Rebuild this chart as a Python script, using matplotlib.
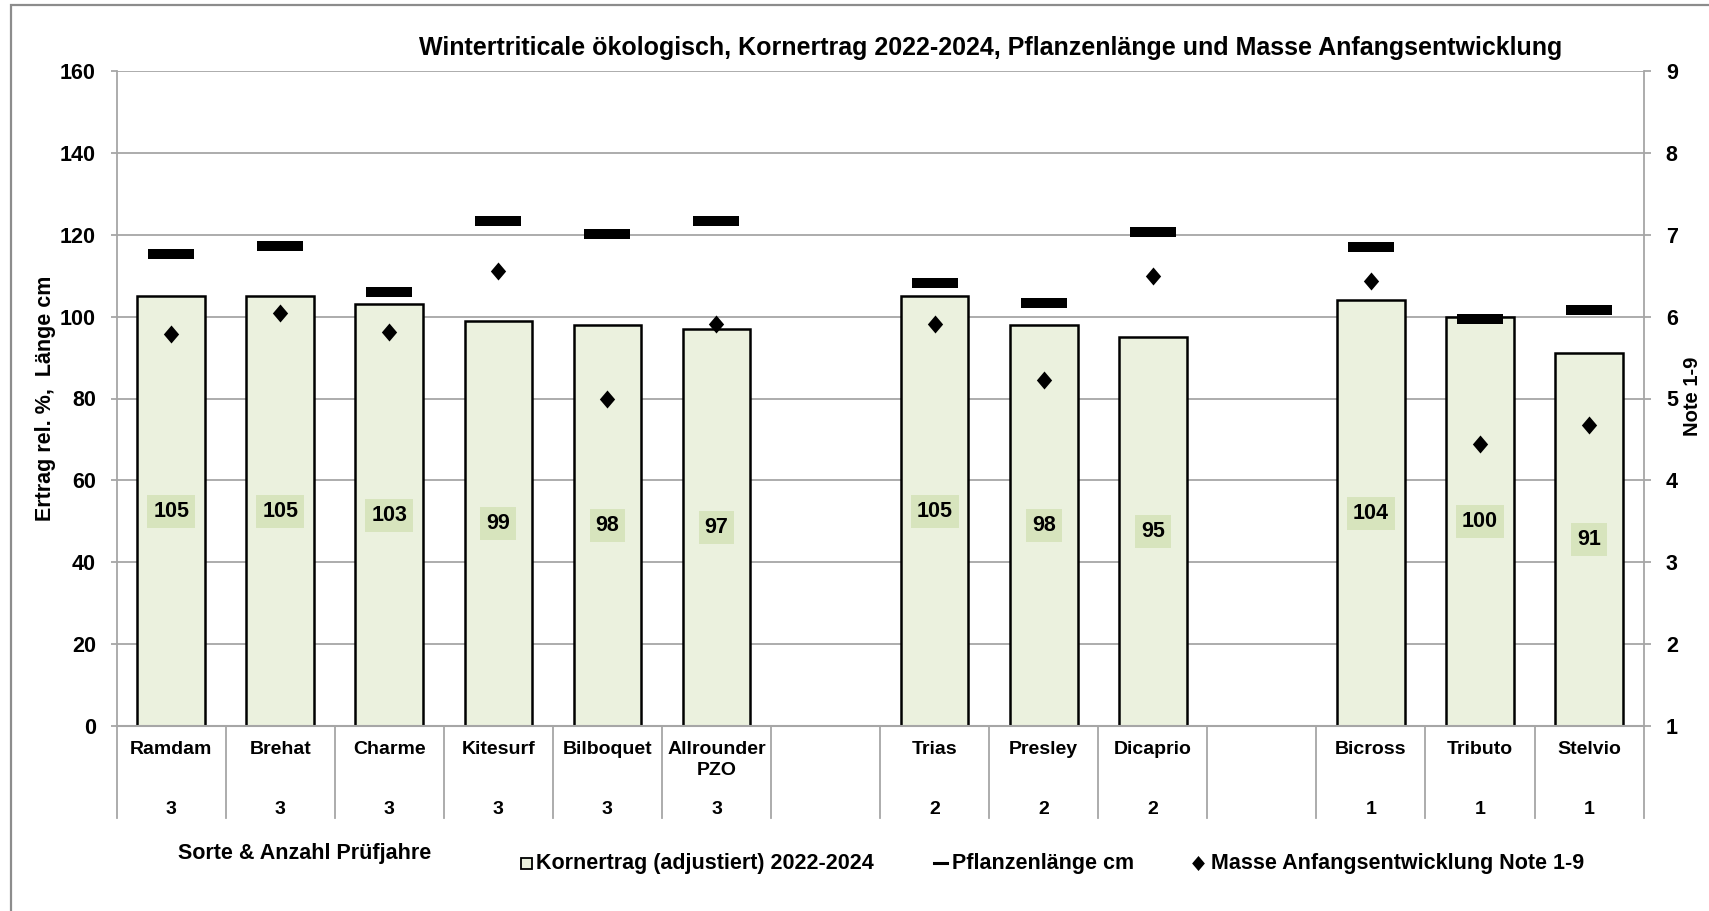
import matplotlib
matplotlib.use("Agg")
import matplotlib.pyplot as plt
from matplotlib.patches import Rectangle
from matplotlib.lines import Line2D
import numpy as np

plt.rcParams['font.family'] = ['Liberation Sans', 'DejaVu Sans']
plt.rcParams['font.weight'] = 'bold'

# ---------------- data ----------------
sorten = ["Ramdam", "Brehat", "Charme", "Kitesurf", "Bilboquet", "Allrounder\nPZO", "",
          "Trias", "Presley", "Dicaprio", "", "Bicross", "Tributo", "Stelvio"]
pruefjahre = ["3", "3", "3", "3", "3", "3", "", "2", "2", "2", "", "1", "1", "1"]
kornertrag = [105, 105, 103, 99, 98, 97, np.nan, 105, 98, 95, np.nan, 104, 100, 91]
pflanzenlaenge = [115.2, 117.3, 105.9, 123.3, 120.1, 123.3, np.nan,
                  108.2, 103.3, 120.7, np.nan, 117.1, 99.5, 101.7]
masse_note = [5.79, 6.04, 5.81, 6.56, 5.0, 5.91, np.nan,
              5.91, 5.22, 6.5, np.nan, 6.44, 4.44, 4.68]

title = "Wintertriticale ökologisch, Kornertrag 2022-2024, Pflanzenlänge und Masse Anfangsentwicklung"
ylabel_left = "Ertrag rel. %,  Länge cm"
ylabel_right = "Note 1-9"
xlabel = "Sorte & Anzahl Prüfjahre"
leg_labels = ["Kornertrag (adjustiert) 2022-2024", "Pflanzenlänge cm", "Masse Anfangsentwicklung Note 1-9"]

# ---------------- layout ----------------
W, H = 1709, 911
fig = plt.figure(figsize=(W / 100, H / 100), dpi=100)

def fx(x):
    return x / W

def fy(y):
    return 1 - y / H

ax_l, ax_r, ax_t, ax_b = 116.6, 1643.6, 71.0, 726.0
ax = fig.add_axes([fx(ax_l), fy(ax_b), (ax_r - ax_l) / W, (ax_b - ax_t) / H])
ax_h_px = ax_b - ax_t

def ay(ypx):
    return (ax_b - ypx) / ax_h_px

grid_col = "#a6a6a6"
n = len(sorten)
x = np.arange(n)

ax.set_xlim(-0.5, n - 0.5)
ax.set_ylim(0, 160)
ax.set_yticks(np.arange(0, 161, 20))
ax.yaxis.grid(True, color=grid_col, lw=1.3)
ax.set_axisbelow(True)
for s in ["top", "right", "bottom"]:
    ax.spines[s].set_visible(False)
ax.spines["left"].set_color(grid_col)
ax.spines["left"].set_linewidth(1.3)
ax.set_xticks([])
ax.tick_params(axis="y", direction="out", length=4, width=1.3, color=grid_col,
               labelsize=15.5, pad=11)
for lab in ax.get_yticklabels():
    lab.set_fontweight("bold")

# bars
vals = np.array(kornertrag, dtype=float)
ax.bar(x, vals, width=0.62, color="#ebf1de", edgecolor="black", linewidth=1.8, zorder=2)

# data labels
for xi, v in zip(x, vals):
    if np.isnan(v):
        continue
    ax.text(xi, v / 2, f"{v:.0f}", ha="center", va="center", fontsize=15.5,
            fontweight="bold", zorder=5,
            bbox=dict(boxstyle="square,pad=0.28", facecolor="#d7e4bd", edgecolor="none"))

# Pflanzenlänge dashes
dash = [(-1, -0.196), (1, -0.196), (1, 0.196), (-1, 0.196), (-1, -0.196)]
ax.plot(x, pflanzenlaenge, linestyle="none", marker=dash, markersize=46 * 0.72,
        color="black", markeredgewidth=0, zorder=4)

# right axis
ax2 = ax.twinx()
ax2.set_ylim(1, 9)
ax2.set_yticks(np.arange(1, 10, 1))
for s in ["top", "left", "bottom"]:
    ax2.spines[s].set_visible(False)
ax2.spines["right"].set_color(grid_col)
ax2.spines["right"].set_linewidth(1.3)
ax2.tick_params(axis="y", direction="out", length=5, width=1.3, color=grid_col,
                labelsize=15.5, pad=11)
for lab in ax2.get_yticklabels():
    lab.set_fontweight("bold")

diamond = [(0, 1), (0.85, 0), (0, -1), (-0.85, 0), (0, 1)]
ax2.plot(x, masse_note, linestyle="none", marker=diamond, markersize=18 * 0.72,
         color="black", markeredgewidth=0, zorder=6)

# bottom axis line
ax.axhline(0, color=grid_col, lw=1.5, zorder=3, clip_on=False)

# category separators and labels
trans = ax.get_xaxis_transform()
y_sep_bot = ay(818)
for b in np.arange(-0.5, n, 1.0):
    ax.plot([b, b], [0, y_sep_bot], transform=trans, color=grid_col, lw=1.3, clip_on=False)
for xi, name, cnt in zip(x, sorten, pruefjahre):
    if name:
        ax.text(xi, ay(741), name, transform=trans, ha="center", va="top",
                fontsize=14, fontweight="bold", linespacing=1.3)
    if cnt:
        ax.text(xi, ay(809), cnt, transform=trans, ha="center", va="center",
                fontsize=14, fontweight="bold")

# axis labels
fig.text(fx(46), fy(398), ylabel_left, rotation=90, ha="center", va="center",
         fontsize=15.5, fontweight="bold")
fig.text(fx(1693), fy(396), ylabel_right, rotation=90, ha="center", va="center",
         fontsize=14.5, fontweight="bold")

# title
fig.text(fx(991), fy(48), title, ha="center", va="center", fontsize=18, fontweight="bold")

# x label
fig.text(fx(305), fy(853), xlabel, ha="center", va="center", fontsize=15.5, fontweight="bold")

# legend (manual)
ly = fy(863)
fig.add_artist(Rectangle((fx(521), fy(869)), 11 / W, 11 / H, facecolor="#ebf1de",
                         edgecolor="black", lw=1.3, transform=fig.transFigure))
fig.text(fx(536), ly, leg_labels[0], ha="left", va="center", fontsize=15.5, fontweight="bold")
fig.add_artist(Line2D([fx(934), fx(947)], [ly, ly], color="black", lw=2.2,
                      transform=fig.transFigure))
fig.text(fx(952), ly, leg_labels[1], ha="left", va="center", fontsize=15.5, fontweight="bold")
fig.add_artist(Line2D([fx(1198)], [ly], marker=diamond, markersize=15 * 0.72, color="black",
                      markeredgewidth=0, linestyle="none", transform=fig.transFigure))
fig.text(fx(1211), ly, leg_labels[2], ha="left", va="center", fontsize=15.5, fontweight="bold")

# outer frame
fig.add_artist(Rectangle((fx(11), fy(930)), (1740 - 11) / W, (930 - 5) / H, facecolor="none",
                         edgecolor="#8c8c8c", lw=1.6, transform=fig.transFigure))

fig.savefig("out.png", dpi=100)
